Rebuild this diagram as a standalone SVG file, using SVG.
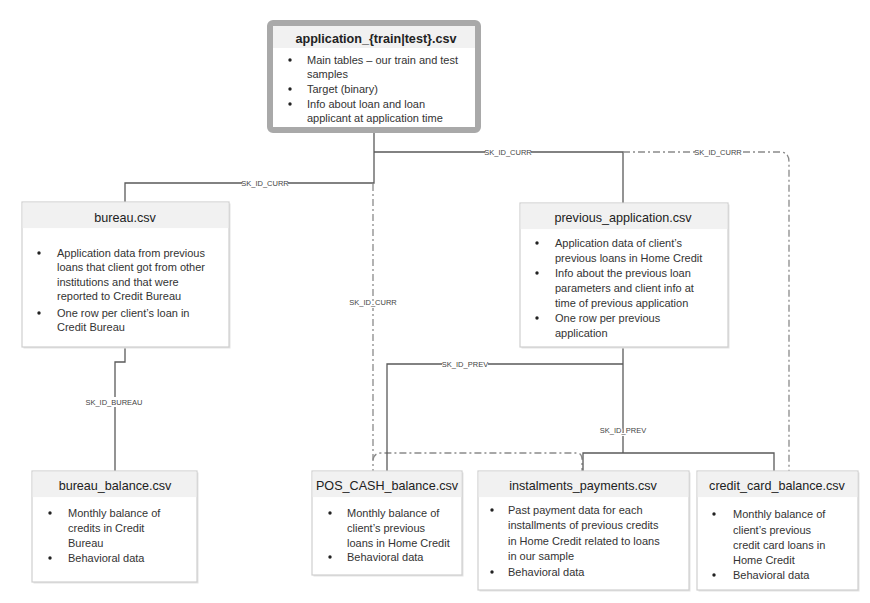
<svg xmlns="http://www.w3.org/2000/svg" width="870" height="603" viewBox="0 0 870 603">
<style>
.box{fill:#fff;stroke:#cfcfcf;stroke-width:1.2}
.shadow{fill:#e4e4e4}
.hdr{fill:#f1f1f1}
.title{font-family:"Liberation Sans",Arial,sans-serif;font-size:12.6px;fill:#222;text-anchor:middle}
.txt{font-family:"Liberation Sans",Arial,sans-serif;font-size:11px;fill:#333}
.bul{fill:#222}
.solid{fill:none;stroke:#5a5a5a;stroke-width:1.3}
.dd{fill:none;stroke:#8a8a8a;stroke-width:1.3;stroke-dasharray:7 3 2 3}
.lbl{font-family:"Liberation Sans",Arial,sans-serif;font-size:7.5px;fill:#444;text-anchor:middle}
.lblv{font-family:"Liberation Sans",Arial,sans-serif;font-size:7.5px;fill:#444;text-anchor:middle;stroke:#fff;stroke-width:2.5;paint-order:stroke}
.lbg{fill:#fff}
</style>
<rect width="870" height="603" fill="#fff"/>
<g id="connectors">
  <path class="solid" d="M374,133 V183 H125 V202"/>
  <path class="solid" d="M374,152 H623 V203"/>
  <path class="dd" d="M623,152 H780 Q789,152 789,162 V471"/>
  <path class="dd" d="M373,184 V471"/>
  <path class="dd" d="M373,460 Q374,453 381,453 H577 Q582,453 582,460 V471"/>
  <path class="solid" d="M623,347 V453"/>
  <path class="solid" d="M623,364 H387 V471"/>
  <path class="solid" d="M583,471 V453 H774 V471"/>
  <path class="solid" d="M125,347 V362 H115 V471"/>
  <rect class="lbg" x="242" y="179" width="46" height="8"/>
  <text class="lbl" x="265" y="186">SK_ID_CURR</text>
  <rect class="lbg" x="485" y="148" width="46" height="8"/>
  <text class="lbl" x="508" y="155">SK_ID_CURR</text>
  <rect class="lbg" x="695" y="148" width="46" height="8"/>
  <text class="lbl" x="718" y="155">SK_ID_CURR</text>
  <text class="lblv" x="373" y="305">SK_ID_CURR</text>
  <rect class="lbg" x="442" y="360" width="46" height="8"/>
  <text class="lbl" x="465" y="367">SK_ID_PREV</text>
  <text class="lblv" x="623" y="433">SK_ID_PREV</text>
  <rect class="lbg" x="85" y="397" width="58" height="10"/>
  <text class="lbl" x="114" y="405">SK_ID_BUREAU</text>
</g>
<g id="application">
  <rect x="270" y="23" width="208" height="107" rx="3" fill="#fff" stroke="#a9a9a9" stroke-width="6"/>
  <rect class="hdr" x="273" y="26" width="202" height="22"/>
  <text class="title" x="376" y="43" font-weight="bold">application_{train|test}.csv</text>
  <circle class="bul" cx="290" cy="60" r="1.7"/>
  <circle class="bul" cx="290" cy="89" r="1.7"/>
  <circle class="bul" cx="290" cy="104" r="1.7"/>
  <text class="txt" x="307" y="64">Main tables – our train and test</text>
  <text class="txt" x="307" y="78">samples</text>
  <text class="txt" x="307" y="93">Target (binary)</text>
  <text class="txt" x="307" y="108">Info about loan and loan</text>
  <text class="txt" x="307" y="122">applicant at application time</text>
</g>
<g id="bureau">
  <rect class="shadow" x="23.5" y="203.5" width="207" height="145"/>
  <rect class="box" x="22" y="202" width="207" height="145"/>
  <rect class="hdr" x="22.6" y="202.6" width="205.8" height="25.5"/>
  <text class="title" x="125" y="222">bureau.csv</text>
  <circle class="bul" cx="39" cy="253" r="1.7"/>
  <circle class="bul" cx="39" cy="313" r="1.7"/>
  <text class="txt" x="57" y="257">Application data from previous</text>
  <text class="txt" x="57" y="271">loans that client got from other</text>
  <text class="txt" x="57" y="286">institutions and that were</text>
  <text class="txt" x="57" y="300">reported to Credit Bureau</text>
  <text class="txt" x="57" y="317">One row per client’s loan in</text>
  <text class="txt" x="57" y="331">Credit Bureau</text>
</g>
<g id="previous_application">
  <rect class="shadow" x="521.5" y="204.5" width="208" height="144"/>
  <rect class="box" x="520" y="203" width="208" height="144"/>
  <rect class="hdr" x="520.6" y="203.6" width="206.8" height="25.5"/>
  <text class="title" x="623" y="222">previous_application.csv</text>
  <circle class="bul" cx="537" cy="243" r="1.7"/>
  <circle class="bul" cx="537" cy="273" r="1.7"/>
  <circle class="bul" cx="537" cy="318" r="1.7"/>
  <text class="txt" x="555" y="247">Application data of client’s</text>
  <text class="txt" x="555" y="262">previous loans in Home Credit</text>
  <text class="txt" x="555" y="277">Info about the previous loan</text>
  <text class="txt" x="555" y="292">parameters and client info at</text>
  <text class="txt" x="555" y="307">time of previous application</text>
  <text class="txt" x="555" y="322">One row per previous</text>
  <text class="txt" x="555" y="337">application</text>
</g>
<g id="bureau_balance">
  <rect class="shadow" x="33.5" y="472.5" width="165" height="111"/>
  <rect class="box" x="32" y="471" width="165" height="111"/>
  <rect class="hdr" x="32.6" y="471.6" width="163.8" height="25.5"/>
  <text class="title" x="115" y="490">bureau_balance.csv</text>
  <circle class="bul" cx="50" cy="513" r="1.7"/>
  <circle class="bul" cx="50" cy="558" r="1.7"/>
  <text class="txt" x="68" y="517">Monthly balance of</text>
  <text class="txt" x="68" y="532">credits in Credit</text>
  <text class="txt" x="68" y="547">Bureau</text>
  <text class="txt" x="68" y="562">Behavioral data</text>
</g>
<g id="pos_cash_balance">
  <rect class="shadow" x="313.5" y="472.5" width="150" height="104"/>
  <rect class="box" x="312" y="471" width="150" height="104"/>
  <rect class="hdr" x="312.6" y="471.6" width="148.8" height="25.5"/>
  <text class="title" x="387" y="490">POS_CASH_balance.csv</text>
  <circle class="bul" cx="330" cy="513" r="1.7"/>
  <circle class="bul" cx="330" cy="557" r="1.7"/>
  <text class="txt" x="347" y="517">Monthly balance of</text>
  <text class="txt" x="347" y="532">client’s previous</text>
  <text class="txt" x="347" y="547">loans in Home Credit</text>
  <text class="txt" x="347" y="561">Behavioral data</text>
</g>
<g id="instalments_payments">
  <rect class="shadow" x="479.5" y="472.5" width="211" height="119"/>
  <rect class="box" x="478" y="471" width="211" height="119"/>
  <rect class="hdr" x="478.6" y="471.6" width="209.8" height="25.5"/>
  <text class="title" x="583" y="490">instalments_payments.csv</text>
  <circle class="bul" cx="492" cy="510" r="1.7"/>
  <circle class="bul" cx="492" cy="572" r="1.7"/>
  <text class="txt" x="508" y="514">Past payment data for each</text>
  <text class="txt" x="508" y="529">installments of previous credits</text>
  <text class="txt" x="508" y="545">in Home Credit related to loans</text>
  <text class="txt" x="508" y="560">in our sample</text>
  <text class="txt" x="508" y="576">Behavioral data</text>
</g>
<g id="credit_card_balance">
  <rect class="shadow" x="698.5" y="472.5" width="161" height="119"/>
  <rect class="box" x="697" y="471" width="161" height="119"/>
  <rect class="hdr" x="697.6" y="471.6" width="159.8" height="25.5"/>
  <text class="title" x="777" y="490">credit_card_balance.csv</text>
  <circle class="bul" cx="714" cy="514" r="1.7"/>
  <circle class="bul" cx="714" cy="575" r="1.7"/>
  <text class="txt" x="733" y="518">Monthly balance of</text>
  <text class="txt" x="733" y="534">client’s previous</text>
  <text class="txt" x="733" y="549">credit card loans in</text>
  <text class="txt" x="733" y="564">Home Credit</text>
  <text class="txt" x="733" y="579">Behavioral data</text>
</g>
</svg>
